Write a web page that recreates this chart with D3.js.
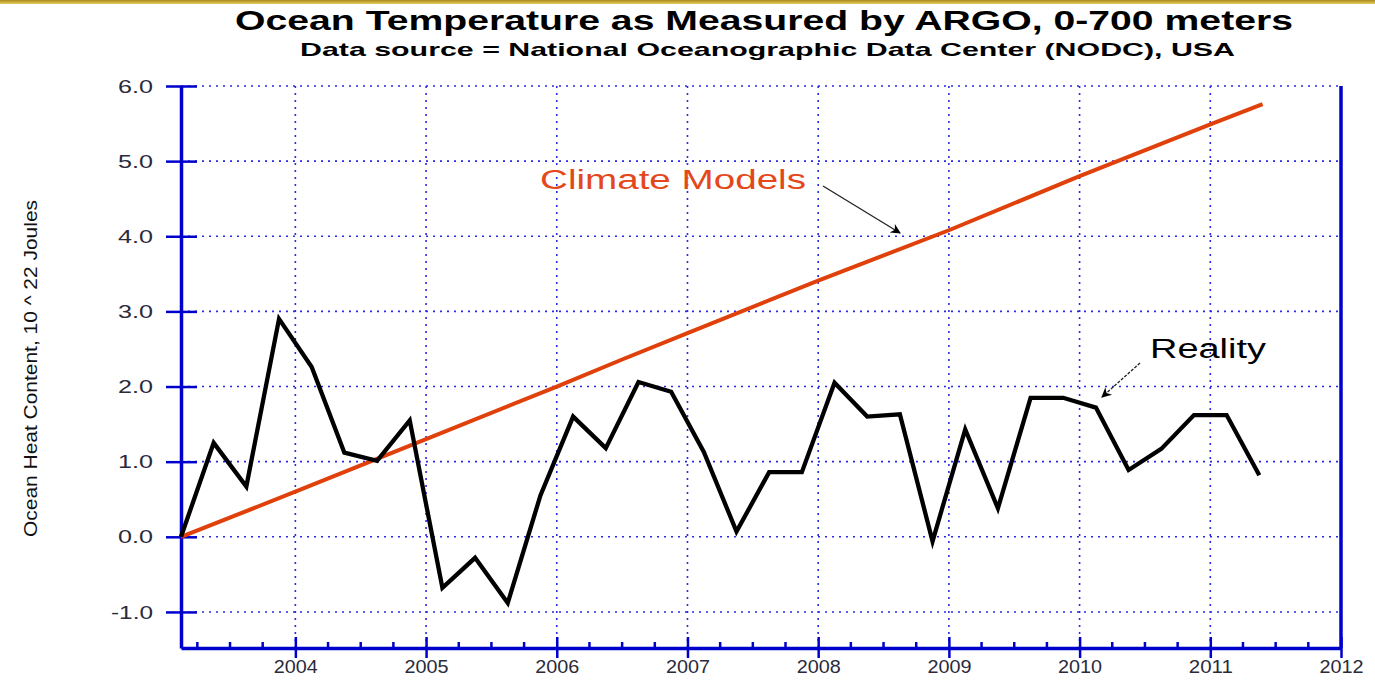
<!DOCTYPE html>
<meta charset="utf-8">
<script src="https://d3js.org/d3.v7.min.js"></script>
<style>
  body { margin: 0; background: #fff; overflow: hidden; }
  text { font-family: "Liberation Sans", Arial, sans-serif; }
</style>
<div id="chart"></div>
<script>

var realityYears = [2003.125, 2003.375, 2003.625, 2003.875, 2004.125, 2004.375, 2004.625, 2004.875,
                    2005.125, 2005.375, 2005.625, 2005.875, 2006.125, 2006.375, 2006.625, 2006.875,
                    2007.125, 2007.375, 2007.625, 2007.875, 2008.125, 2008.375, 2008.625, 2008.875,
                    2009.125, 2009.375, 2009.625, 2009.875, 2010.125, 2010.375, 2010.625, 2010.875,
                    2011.125, 2011.375];
var realityValues = [0.0, 1.25, 0.67, 2.90, 2.26, 1.12, 1.01, 1.55,
                     -0.68, -0.28, -0.88, 0.55, 1.60, 1.18, 2.06, 1.93,
                     1.13, 0.07, 0.86, 0.86, 2.05, 1.60, 1.63, -0.06,
                     1.43, 0.38, 1.85, 1.85, 1.72, 0.89, 1.17, 1.62,
                     1.62, 0.82];

// model projection
var modelYears  = [2003.125, 2004, 2005, 2006, 2006.5, 2007, 2008, 2009, 2010, 2011, 2011.4];
var modelValues = [0.0, 0.60, 1.30, 2.00, 2.36, 2.71, 3.41, 4.08, 4.80, 5.49, 5.76];

var yearTicks = [2004, 2005, 2006, 2007, 2008, 2009, 2010, 2011, 2012];
var valueTicks = [-1, 0, 1, 2, 3, 4, 5, 6];

var W = 1375, H = 680;
var svg = d3.select("#chart").append("svg")
    .attr("width", W)
    .attr("height", H)
    .style("display", "block");

// thin gold strip across the top
var defs = svg.append("defs");
var grad = defs.append("linearGradient")
    .attr("id", "gold").attr("x1", 0).attr("x2", 0).attr("y1", 0).attr("y2", 1);
grad.append("stop").attr("offset", "0%").attr("stop-color", "#a88a1c");
grad.append("stop").attr("offset", "100%").attr("stop-color", "#e8cc60");
svg.append("rect").attr("x", 0).attr("y", 0).attr("width", W).attr("height", 4)
    .attr("fill", "url(#gold)");

var x = d3.scaleLinear().domain([2003.125, 2012]).range([181, 1341]);
var y = d3.scaleLinear().domain([-1.48, 6]).range([648, 86]);

var blue = "#0000cc";

// dotted grid
svg.append("g").selectAll("line")
    .data(valueTicks).enter().append("line")
    .attr("x1", x.range()[0]).attr("x2", x.range()[1])
    .attr("y1", d => y(d)).attr("y2", d => y(d))
    .attr("stroke", "#2a2ae6").attr("stroke-width", 1.6)
    .attr("stroke-dasharray", "2,5");
svg.append("g").selectAll("line")
    .data(yearTicks.slice(0, -1)).enter().append("line")
    .attr("x1", d => x(d)).attr("x2", d => x(d))
    .attr("y1", y(6)).attr("y2", y.range()[0])
    .attr("stroke", "#2a2ae6").attr("stroke-width", 1.6)
    .attr("stroke-dasharray", "2,5");

// left axis
var yAxis = d3.axisLeft(y).tickValues(valueTicks).tickFormat(d => d.toFixed(1))
    .tickSizeInner(15).tickSizeOuter(0).tickPadding(13);
var gy = svg.append("g").attr("transform", "translate(181,0)").call(yAxis);
gy.select(".domain").attr("stroke", blue).attr("stroke-width", 3.5);
gy.selectAll(".tick line").attr("stroke", blue).attr("stroke-width", 2.5).attr("x2", 16).attr("x1", -15);
gy.selectAll(".tick text").attr("x", -28).attr("fill", "#2a2a3a")
    .attr("textLength", d => d < 0 ? 42 : 35).attr("lengthAdjust", "spacingAndGlyphs")
    .style("font-size", "19px").attr("font-family", "Liberation Sans, Arial, sans-serif");

// right axis (plain line)
svg.append("line").attr("x1", 1341).attr("x2", 1341).attr("y1", y(6)).attr("y2", 648)
    .attr("stroke", blue).attr("stroke-width", 3.5);

// bottom axis: years with quarterly minor ticks
var minor = d3.range(2003.25, 2012, 0.25).filter(d => Math.abs(d - Math.round(d)) > 0.01);
svg.append("g").selectAll("line").data(minor).enter().append("line")
    .attr("x1", d => x(d)).attr("x2", d => x(d))
    .attr("y1", 642).attr("y2", 648)
    .attr("stroke", blue).attr("stroke-width", 2.5);

var xAxis = d3.axisBottom(x).tickValues(yearTicks).tickFormat(d3.format("d"))
    .tickSizeInner(10).tickSizeOuter(0).tickPadding(4);
var gx = svg.append("g").attr("transform", "translate(0,648)").call(xAxis);
gx.select(".domain").attr("stroke", blue).attr("stroke-width", 3.5);
gx.selectAll(".tick line").attr("stroke", blue).attr("stroke-width", 2.5).attr("y1", -11);
gx.selectAll(".tick text").attr("fill", "#2a2a3a")
    .attr("y", 12)
    .attr("textLength", 44).attr("lengthAdjust", "spacingAndGlyphs")
    .style("font-size", "19px").attr("font-family", "Liberation Sans, Arial, sans-serif");

// lines
var line = d3.line().x(d => x(d[0])).y(d => y(d[1]));

svg.append("path")
    .datum(d3.zip(modelYears, modelValues))
    .attr("d", line)
    .attr("fill", "none")
    .attr("stroke", "#e0400a")
    .attr("stroke-width", 4);

svg.append("path")
    .datum(d3.zip(realityYears, realityValues))
    .attr("d", line)
    .attr("fill", "none")
    .attr("stroke", "#000")
    .attr("stroke-width", 4.3)
    .attr("stroke-linejoin", "miter");

// annotations
defs.append("marker").attr("id", "arrow")
    .attr("viewBox", "0 0 10 10").attr("refX", 9).attr("refY", 5)
    .attr("markerWidth", 14).attr("markerHeight", 10).attr("markerUnits", "userSpaceOnUse")
    .attr("orient", "auto")
    .append("path").attr("d", "M0,0 L10,5 L0,10 L3,5 Z").attr("fill", "#000");

svg.append("text").attr("x", 540).attr("y", 189)
    .attr("textLength", 266).attr("lengthAdjust", "spacingAndGlyphs")
    .attr("fill", "#e4481a").style("font-size", "27px")
    .text("Climate Models");
svg.append("line").attr("x1", 823).attr("y1", 186).attr("x2", 900).attr("y2", 233)
    .attr("stroke", "#222").attr("stroke-width", 1.3).attr("marker-end", "url(#arrow)");

svg.append("text").attr("x", 1150).attr("y", 358)
    .attr("textLength", 116).attr("lengthAdjust", "spacingAndGlyphs")
    .attr("fill", "#000").style("font-size", "27px")
    .text("Reality");
svg.append("line").attr("x1", 1140).attr("y1", 363).attr("x2", 1102).attr("y2", 397)
    .attr("stroke", "#222").attr("stroke-width", 1.3).attr("stroke-dasharray", "3,1.5")
    .attr("marker-end", "url(#arrow)");

// titles
svg.append("text").attr("x", 235).attr("y", 30)
    .attr("textLength", 1058).attr("lengthAdjust", "spacingAndGlyphs")
    .style("font-size", "27px").style("font-weight", "bold").attr("fill", "#000")
    .text("Ocean Temperature as Measured by ARGO, 0-700 meters");
svg.append("text").attr("x", 300).attr("y", 56)
    .attr("textLength", 935).attr("lengthAdjust", "spacingAndGlyphs")
    .style("font-size", "19px").style("font-weight", "bold").attr("fill", "#000")
    .text("Data source = National Oceanographic Data Center (NODC), USA");

// y axis title
svg.append("text")
    .attr("transform", "translate(37,537) rotate(-90)")
    .attr("textLength", 337).attr("lengthAdjust", "spacingAndGlyphs")
    .style("font-size", "19px").attr("fill", "#111")
    .text("Ocean Heat Content,  10 ^ 22 Joules");

</script>
